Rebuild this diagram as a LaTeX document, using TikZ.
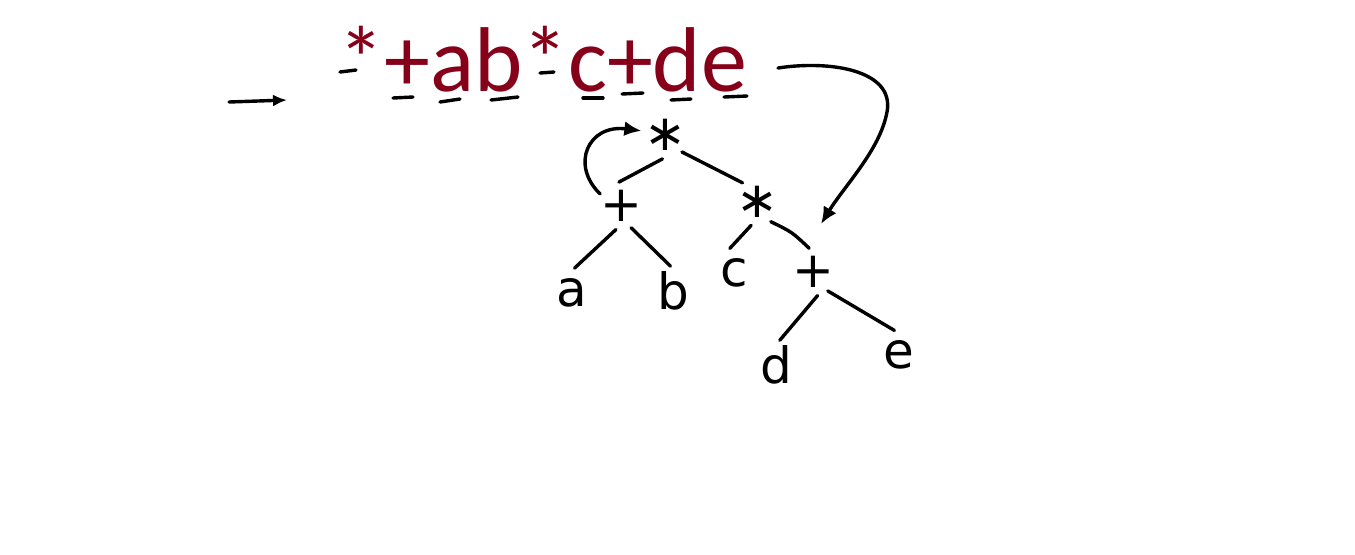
\documentclass[tikz,border=0pt]{standalone}
\usepackage{fontspec}
\setmainfont{Carlito}
\newfontfamily\handfont{DejaVu Sans}
\usetikzlibrary{arrows.meta}
\definecolor{exprred}{RGB}{134,0,26}
\newcommand\tlab[1]{\makebox[0pt]{\raisebox{-.5\height}[0pt][0pt]{#1}}}
\tikzset{
  ink/.style={line width=1.7pt, line cap=round},
  tnode/.style={circle, minimum size=24pt, inner sep=0pt, outer sep=0pt,
                font=\handfont\fontsize{25}{27}\selectfont},
  tip/.style={-{Latex[length=8.5pt,width=7.5pt]}}
}
\begin{document}
\begin{tikzpicture}[x=0.5pt, y=-0.5pt]
  \fill[white] (0,0) rectangle (1355,554);
  \useasboundingbox (0,0) rectangle (1355,554);

  % prefix expression
  \node[anchor=base west, inner sep=0pt, text=exprred,
        font=\fontsize{46}{50}\selectfont] (expr) at (338,91) {*+ab*c+de};
  \foreach \xa/\ya/\xb/\yb in {340/72/356/70, 393/98/413/97, 440/102/460/99,
      491/100/518/97, 540/73/554/72, 583/98/603/98, 622/94/643/93,
      671/100/691/99, 724/97/747/96}
    \draw[ink] (\xa,\ya) -- (\xb,\yb);

  \coordinate (arrL) at (229,102);
  \coordinate (arrR) at (287,100);
  \draw[ink, -{Latex[length=7pt,width=6pt]}] (arrL) -- (arrR);

  % tree
  \node[tnode] (root)  at (665,135) {\tlab{∗}};
  \node[tnode] (plusL) at (621,206) {\tlab{+}};
  \node[tnode] (starR) at (757,202) {\tlab{∗}};
  \node[tnode] (a)     at (572,292) {\tlab{a}};
  \node[tnode] (b)     at (673,290) {\tlab{b}};
  \node[tnode] (c)     at (734,272) {\tlab{c}};
  \node[tnode] (plusR) at (813,272) {\tlab{+}};
  \node[tnode] (d)     at (776,364) {\tlab{d}};
  \node[tnode] (e)     at (899,354) {\tlab{e}};

  \draw[ink] (root.-96)  -- (plusL.95);
  \draw[ink] (root.-45)  -- (starR.127);
  \draw[ink] (plusL.-102) -- (a.84);
  \draw[ink] (plusL.-65) -- (b.96);
  \draw[ink] (starR.-104) -- (c.100);
  \draw[ink] (starR.-55) .. controls (792,232) .. (plusR.99);
  \draw[ink] (plusR.-79) -- (d.81);
  \draw[ink] (plusR.-52) -- (e.101);

  \draw[ink, tip] (plusL.150) .. controls (570,165) and (588,124) .. (root.170);

  \coordinate (tailR) at (778,68);
  \coordinate (tipR) at (821,224);
  \draw[ink, tip] (tailR) .. controls (830,60) and (895,70) .. (887,112)
    .. controls (880,150) and (845,185) .. (tipR);
\end{tikzpicture}
\end{document}
